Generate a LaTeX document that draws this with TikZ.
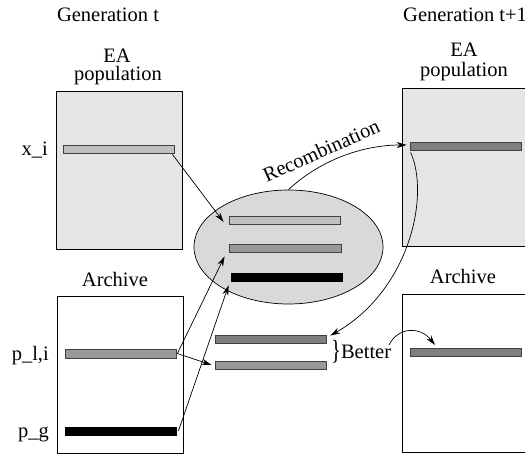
\documentclass[tikz,border=0pt]{standalone}
\usepackage{fontspec}
\setmainfont{Liberation Serif}
\usetikzlibrary{shapes.geometric,arrows.meta}
\definecolor{boxgray}{HTML}{E5E5E5}
\definecolor{ellgray}{HTML}{D9D9D9}
\definecolor{barlight}{HTML}{C0C0C0}
\definecolor{barmid}{HTML}{999999}
\definecolor{bardark}{HTML}{7F7F7F}
\definecolor{baredge}{HTML}{404040}
\tikzset{
  lbl/.style={font=\fontsize{20.5}{23}\selectfont, inner sep=0pt},
  popbox/.style={draw=black, line width=0.9pt, fill=boxgray, rectangle, inner sep=0pt},
  arcbox/.style={draw=black, line width=0.9pt, fill=white, rectangle, inner sep=0pt},
  bar/.style={draw=baredge, line width=0.8pt, rectangle, inner sep=0pt, minimum width=111pt, minimum height=8pt},
  conn/.style={draw=black, line width=0.7pt, -{Stealth[length=10pt,width=6pt]}},
}
\begin{document}
\begin{tikzpicture}[x=1pt,y=-1pt]
\useasboundingbox (0,0) rectangle (525,454);
\clip (0,0) rectangle (525,454);
% titles
\node[lbl, anchor=base] (gt) at (108,22) {Generation t};
\node[lbl, anchor=base west] (gt1) at (403,22) {Generation t+1};
\node[lbl, anchor=base] (ea1) at (117,63) {EA};
\node[lbl, anchor=base] (pop1) at (118,81) {population};
\node[lbl, anchor=base] (ea2) at (464,57) {EA};
\node[lbl, anchor=base] (pop2) at (464,77) {population};
\node[lbl, anchor=base] (ar1) at (115,287) {Archive};
\node[lbl, anchor=base] (ar2) at (463,284) {Archive};
% boxes
\node[popbox, minimum width=126pt, minimum height=158pt] (eaL) at (119,170) {};
\node[arcbox, minimum width=126pt, minimum height=157pt] (arL) at (120,374.5) {};
\node[popbox, minimum width=133pt, minimum height=158pt] (eaR) at (468.5,167) {};
\node[arcbox, minimum width=133pt, minimum height=158pt] (arR) at (468.5,373) {};
% ellipse
\node[ellipse, draw=black, line width=0.7pt, fill=ellgray, minimum width=189pt, minimum height=114pt, inner sep=0pt] (pool) at (288.5,247) {};
% bars
\node[bar, fill=barlight] (xi) at (118.5,149) {};
\node[bar, fill=barlight] (b1) at (284.5,220) {};
\node[bar, fill=barmid, minimum width=112pt] (b2) at (285,248) {};
\node[bar, fill=black, draw=black] (b3) at (286.5,277) {};
\node[bar, fill=bardark] (b4) at (270.5,339) {};
\node[bar, fill=barmid] (b5) at (270.5,365) {};
\node[bar, fill=barmid, minimum height=9pt] (pli) at (120.5,353.5) {};
\node[bar, fill=black, draw=black] (pg) at (120.5,431) {};
\node[bar, fill=bardark] (rea) at (465.5,146) {};
\node[bar, fill=bardark] (rar) at (465.5,352) {};
% side labels
\node[lbl, anchor=base east] (lxi) at (48,156) {x\_i};
\node[lbl, anchor=base east] (lpli) at (49,360) {p\_l,i};
\node[lbl, anchor=base east] (lpg) at (49,437) {p\_g};
\node[lbl, anchor=base west] (better) at (331,359) {\raisebox{-1pt}{\scalebox{1}[1.35]{\}}}Better};
\node[lbl, anchor=base, rotate=24] (rec) at (324,157) {Recombination};
% coordinates for connector ends
\coordinate (xiE) at ([xshift=-2pt,yshift=-1pt]xi.south east);
\coordinate (pliE) at ([xshift=1pt]pli.east);
\coordinate (pgE) at ([xshift=2pt]pg.east);
\coordinate (t1) at ([xshift=-5pt,yshift=-2pt]b1.west);
\coordinate (t2) at ([xshift=-4pt,yshift=-4pt]b2.south west);
\coordinate (t3) at ([xshift=-2pt,yshift=-4pt]b3.south west);
\coordinate (t5) at ([xshift=-3pt]b5.west);
\coordinate (t4) at ([xshift=4pt,yshift=-1pt]b4.north east);
\coordinate (reaS) at ([xshift=1pt,yshift=-2pt]rea.south west);
\coordinate (reaW) at ([xshift=-3pt,yshift=1pt]rea.west);
\coordinate (btS) at (389,345);
\coordinate (rarT) at (435,345);
% connectors
\draw[conn] (xiE) -- (t1);
\draw[conn] (pliE) -- (t2);
\draw[conn] (pliE) -- (t5);
\draw[conn] (pgE) -- (t3);
\draw[conn] (pool.north) .. controls (318,162) and (360,145) .. (reaW);
\draw[conn] (reaS) .. controls (430,195) and (410,290) .. (t4);
\draw[conn] (btS) .. controls (398,327) and (420,326) .. (rarT);
\end{tikzpicture}
\end{document}
